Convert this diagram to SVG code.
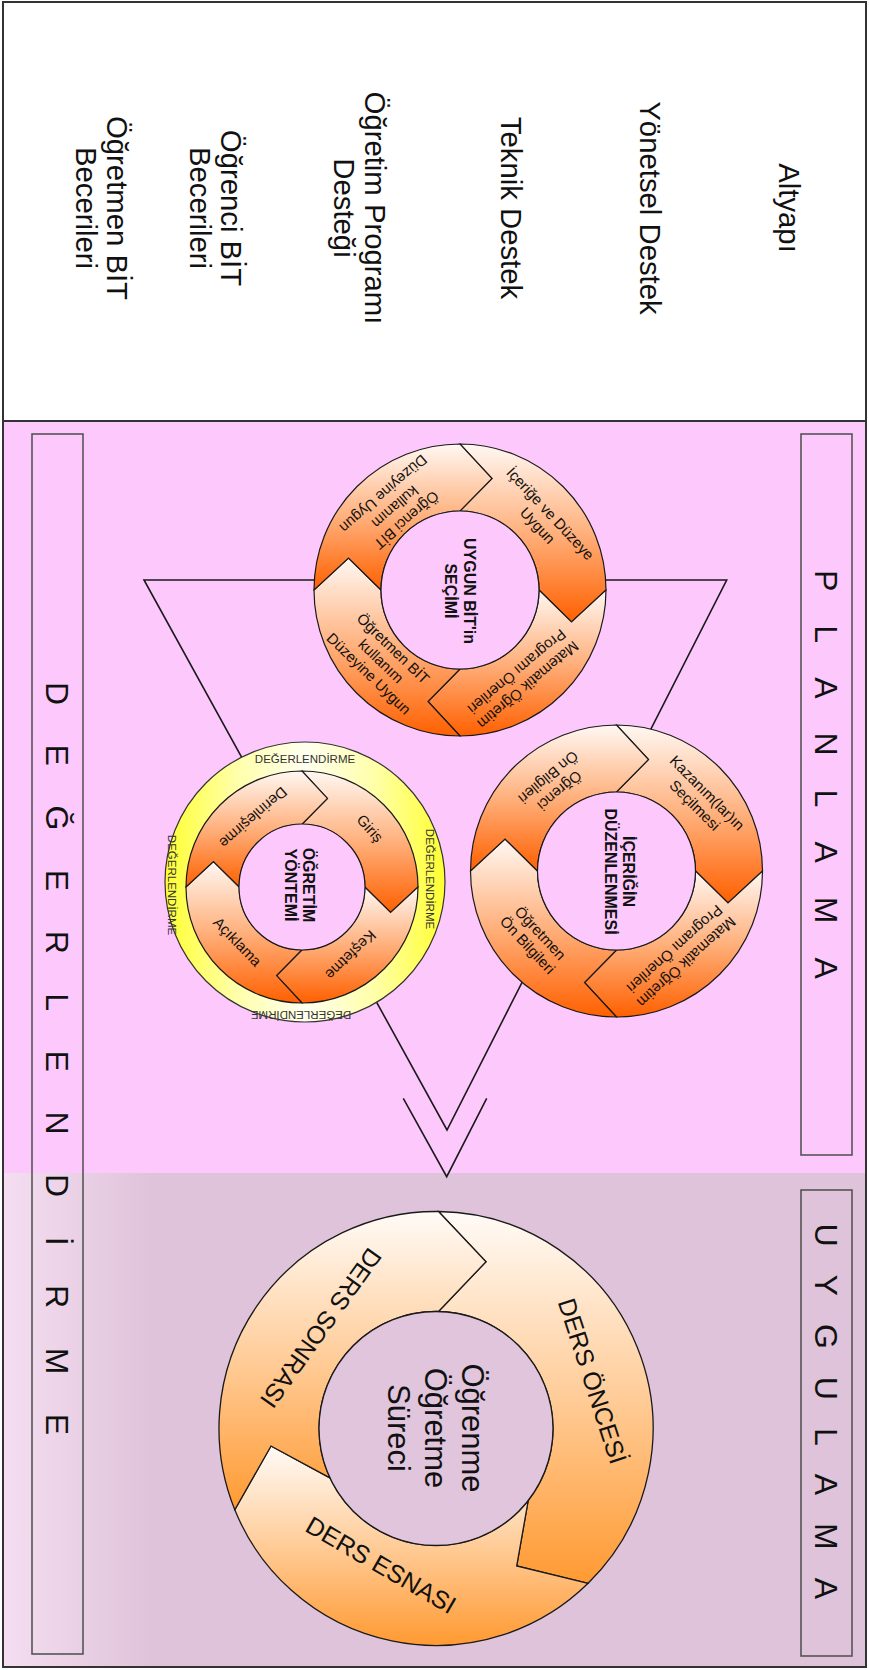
<svg xmlns="http://www.w3.org/2000/svg" width="869" height="1670" viewBox="0 0 869 1670">
<defs>
<style>
text{font-family:"Liberation Sans",Arial,sans-serif;fill:#111}
.big{font-size:29.3px;text-anchor:middle}
.lab{font-size:32px}
.s{font-size:15px;text-anchor:middle}
.c{font-size:16px;font-weight:bold;text-anchor:middle}
.y{font-size:11.5px;text-anchor:middle;fill:#333}
.d{font-size:25px;text-anchor:middle}
.m{font-size:31px;text-anchor:middle}
.seg{stroke:#1a1a1a;stroke-width:1.2;fill:url(#gO)}
.bseg{stroke:#1a1a1a;stroke-width:1.3;fill:url(#gB)}
.hole{fill:#fdc9fd;stroke:#1a1a1a;stroke-width:1.2}
.bhole{fill:#e0c5dc;stroke:#1a1a1a;stroke-width:1.3}
.box{fill:none;stroke:#555;stroke-width:1.6}
.ln{fill:none;stroke:#1a1a1a;stroke-width:1.6}
</style>
<linearGradient id="gO" x1="0" y1="0" x2="0" y2="1">
<stop offset="0" stop-color="#fff8f3"/><stop offset="0.5" stop-color="#ffb07c"/><stop offset="1" stop-color="#ff6000"/>
</linearGradient>
<linearGradient id="gB" x1="0" y1="0" x2="0" y2="1">
<stop offset="0" stop-color="#fffbf7"/><stop offset="0.5" stop-color="#ffcc98"/><stop offset="1" stop-color="#ff9a32"/>
</linearGradient>
<linearGradient id="gY" x1="0" y1="0" x2="1" y2="0">
<stop offset="0" stop-color="#ffff30"/><stop offset="0.25" stop-color="#ffffa8"/><stop offset="0.5" stop-color="#fffff0"/><stop offset="0.75" stop-color="#ffffa8"/><stop offset="1" stop-color="#ffff30"/>
</linearGradient>
<linearGradient id="gM" gradientUnits="userSpaceOnUse" x1="4" y1="0" x2="150" y2="0">
<stop offset="0" stop-color="#f5def1"/><stop offset="1" stop-color="#dfc3da"/>
</linearGradient>
<path id="pTR" class="seg" vector-effect="non-scaling-stroke" d="M0 -146A146 146 0 0 1 146 0L111.5 32L79 0A79 79 0 0 0 0 -79L32 -111.5Z"/>
<path id="pBR" class="seg" vector-effect="non-scaling-stroke" d="M146 0A146 146 0 0 1 0 146L-32 111.5L0 79A79 79 0 0 0 79 0L111.5 32Z"/>
<path id="pBL" class="seg" vector-effect="non-scaling-stroke" d="M0 146A146 146 0 0 1 -146 0L-111.5 -32L-79 0A79 79 0 0 0 0 79L-32 111.5Z"/>
<path id="pTL" class="seg" vector-effect="non-scaling-stroke" d="M-146 0A146 146 0 0 1 0 -146L32 -111.5L0 -79A79 79 0 0 0 -79 0L-111.5 -32Z"/>
</defs>

<g id="background">
<rect x="3" y="2" width="863" height="1665" fill="#fff"/>
<rect x="4" y="421" width="861" height="752" fill="#fdc9fd"/>
<rect x="4" y="1173" width="861" height="493" fill="url(#gM)"/>
<line x1="3" y1="421" x2="866" y2="421" stroke="#333" stroke-width="2"/>
<rect x="3" y="2" width="863" height="1665" fill="none" stroke="#333" stroke-width="2"/>
</g>

<g id="support-factors">
<text class="big" transform="translate(779 208) rotate(90)">Altyapı</text>
<text class="big" transform="translate(640 208) rotate(90)">Yönetsel Destek</text>
<text class="big" transform="translate(501 208) rotate(90)">Teknik Destek</text>
<text class="big" transform="translate(365 208) rotate(90)"><tspan x="0" dy="0">Öğretim Programı</tspan><tspan x="0" dy="31">Desteği</tspan></text>
<text class="big" transform="translate(221 208) rotate(90)"><tspan x="0" dy="0">Öğrenci BİT</tspan><tspan x="0" dy="31">Becerileri</tspan></text>
<text class="big" transform="translate(107 208) rotate(90)"><tspan x="0" dy="0">Öğretmen BİT</tspan><tspan x="0" dy="31">Becerileri</tspan></text>
</g>

<g id="planlama">
<rect class="box" x="801" y="434" width="51" height="721"/>
<text class="lab" transform="translate(814.5 570) rotate(90)" letter-spacing="34">PLANLAMA</text>
</g>
<g id="uygulama">
<rect class="box" x="801" y="1190" width="51" height="466"/>
<text class="lab" transform="translate(814.5 1223.5) rotate(90)" letter-spacing="28">UYGULAMA</text>
</g>
<g id="degerlendirme">
<rect class="box" x="32" y="434" width="51" height="1220"/>
<text class="lab" transform="translate(46 682) rotate(90)" letter-spacing="39.5">DEĞERLENDİRME</text>
</g>

<g id="connectors">
<polygon class="ln" points="144,580 726.7,580 447,1130"/>
<polyline class="ln" points="403.3,1098.3 446.7,1176.7 486.7,1098.3"/>
</g>

<g id="uygun-bit-secimi">
<g transform="translate(460 590)">
<use href="#pTR"/><use href="#pBR"/><use href="#pBL"/><use href="#pTL"/>
<circle class="hole" cx="0" cy="0" r="79"/>
</g>
<text class="s" transform="translate(544 519.5) rotate(47)"><tspan x="0" dy="-3.5">İçeriğe ve Düzeye</tspan><tspan x="0" dy="17.5">Uygun</tspan></text>
<text class="s" transform="translate(522.5 678.3) rotate(140)"><tspan x="0" dy="-3.5">Matematik Öğretim</tspan><tspan x="0" dy="17.5">Programı Önerileri</tspan></text>
<text class="s" transform="translate(381 661) rotate(44)"><tspan x="0" dy="-12.25">Öğretmen BİT</tspan><tspan x="0" dy="17.5">kullanım</tspan><tspan x="0" dy="17.5">Düzeyine Uygun</tspan></text>
<text class="s" transform="translate(395 507) rotate(139)"><tspan x="0" dy="-12.25">Öğrenci BİT</tspan><tspan x="0" dy="17.5">kullanım</tspan><tspan x="0" dy="17.5">Düzeyine Uygun</tspan></text>
<text class="c" transform="translate(460.5 591) rotate(90)"><tspan x="0" dy="-3.4">UYGUN BİT'in</tspan><tspan x="0" dy="18.5">SEÇİMİ</tspan></text>
</g>

<g id="iceriginin-duzenlenmesi">
<g transform="translate(616.5 871)">
<use href="#pTR"/><use href="#pBR"/><use href="#pBL"/><use href="#pTL"/>
<circle class="hole" cx="0" cy="0" r="79"/>
</g>
<text class="s" transform="translate(701 799) rotate(45)"><tspan x="0" dy="-3.5">Kazanım(lar)ın</tspan><tspan x="0" dy="17.5">Seçilmesi</tspan></text>
<text class="s" transform="translate(680.5 955.5) rotate(138)"><tspan x="0" dy="-3.5">Matematik Öğretim</tspan><tspan x="0" dy="17.5">Programı Önerileri</tspan></text>
<text class="s" transform="translate(534 939) rotate(47)"><tspan x="0" dy="-3.5">Öğretmen</tspan><tspan x="0" dy="17.5">Ön Bilgileri</tspan></text>
<text class="s" transform="translate(554 784) rotate(140)"><tspan x="0" dy="-3.5">Öğrenci</tspan><tspan x="0" dy="17.5">Ön Bilgileri</tspan></text>
<text class="c" transform="translate(619.5 871.5) rotate(90)"><tspan x="0" dy="-3.4">İÇERİĞİN</tspan><tspan x="0" dy="18">DÜZENLENMESİ</tspan></text>
</g>

<g id="ogretim-yontemi">
<circle cx="305" cy="882" r="140" fill="url(#gY)" stroke="#333" stroke-width="1.2"/>
<g transform="translate(302 887) scale(0.7945)">
<use href="#pTR"/><use href="#pBR"/><use href="#pBL"/><use href="#pTL"/>
</g>
<circle class="hole" cx="302" cy="887" r="63"/>
<text class="y" x="305" y="763">DEĞERLENDİRME</text>
<text class="y" transform="translate(430 879) rotate(90)" dy="4">DEĞERLENDİRME</text>
<text class="y" transform="translate(172 885) rotate(90)" dy="4">DEĞERLENDİRME</text>
<text class="y" transform="translate(301 1014.7) rotate(180)" dy="4">DEĞERLENDİRME</text>
<text class="s" transform="translate(370 828.3) rotate(48)" dy="5.25">Giriş</text>
<text class="s" transform="translate(350.8 955) rotate(136)" dy="5.25">Keşfetme</text>
<text class="s" transform="translate(237.5 941.7) rotate(46)" dy="5.25">Açıklama</text>
<text class="s" transform="translate(253.3 817.5) rotate(139)" dy="5.25">Derinleşirme</text>
<text class="c" transform="translate(300 885) rotate(90)"><tspan x="0" dy="-3.4">ÖĞRETİM</tspan><tspan x="0" dy="18">YÖNTEMİ</tspan></text>
</g>

<g id="ogrenme-ogretme-sureci">
<path class="bseg" d="M438.5 1211.5A217 217 0 0 1 588.1 1583.3L516.7 1566L528.2 1500.5A117 117 0 0 0 438.5 1311.5L486 1261.7Z"/>
<path class="bseg" d="M588.1 1583.3A217 217 0 0 1 234.8 1509.8L271 1446L330 1477.9A117 117 0 0 0 528.2 1500.5L516.7 1566Z"/>
<path class="bseg" d="M234.8 1509.8A217 217 0 0 1 438.5 1211.5L486 1261.7L438.5 1311.5A117 117 0 0 0 330 1477.9L271 1446Z"/>
<circle class="bhole" cx="436" cy="1428.5" r="117"/>
<text class="d" transform="translate(592.5 1381) rotate(72)" dy="8.75">DERS ÖNCESİ</text>
<text class="d" transform="translate(381 1565) rotate(30)" dy="8.75">DERS ESNASI</text>
<text class="d" transform="translate(321 1328) rotate(125.5)" dy="8.75">DERS SONRASI</text>
<text class="m" transform="translate(436 1428) rotate(90)"><tspan x="0" dy="-26.1">Öğrenme</tspan><tspan x="0" dy="37">Öğretme</tspan><tspan x="0" dy="37">Süreci</tspan></text>
</g>
</svg>
